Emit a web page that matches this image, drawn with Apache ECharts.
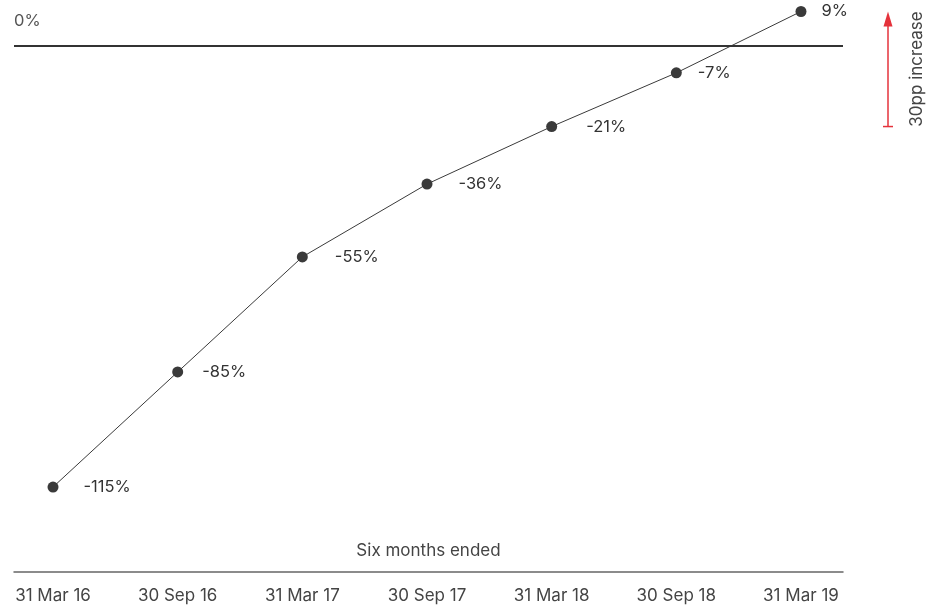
<!DOCTYPE html>
<html>
<head>
<meta charset="utf-8">
<script src="https://cdn.jsdelivr.net/npm/echarts@6/dist/echarts.min.js"></script>
<style>
  html, body { margin: 0; padding: 0; background: #fff; }
  #chart { width: 928px; height: 606px; }
</style>
</head>
<body>
<div id="chart"></div>
<script>
// Period end dates (six months ended)
const categories = ['31 Mar 16', '30 Sep 16', '31 Mar 17', '30 Sep 17', '31 Mar 18', '30 Sep 18', '31 Mar 19'];
// Value per period, in percent
const values = [-115, -85, -55, -36, -21, -7, 9];
// Bracket for the "30pp increase" scale arrow
const arrowRange = [-21, 9];
const arrowText = '30pp increase';
const axisTitle = 'Six months ended';

// Gap between each marker and its value label (px)
const labelGaps = [25, 19, 27, 26, 29, 16, 15];

const FONT = 'Inter, "Noto Sans", sans-serif';
const chart = echarts.init(document.getElementById('chart'), null, { renderer: 'canvas' });

const positions = categories.map((_, i) => i);

chart.setOption({
  animation: false,
  grid: { left: 14, right: 85, top: 0, bottom: 34, containLabel: false },
  xAxis: {
    type: 'value',
    min: -0.313,
    max: 6.337,
    axisLine: { show: true, onZero: false, lineStyle: { color: '#666', width: 1.5 } },
    axisTick: { show: false },
    splitLine: { show: false },
    axisLabel: {
      customValues: positions,
      formatter: v => categories[Math.round(v)] || '',
      color: '#444',
      fontFamily: FONT,
      fontSize: 17,
      margin: 15
    }
  },
  yAxis: {
    type: 'value',
    min: -137.16,
    max: 12,
    show: false
  },
  series: [{
    type: 'line',
    data: values.map((v, i) => ({ value: [i, v], label: { distance: labelGaps[i] } })),
    symbol: 'circle',
    symbolSize: 11,
    itemStyle: { color: '#3a3a3a' },
    lineStyle: { color: '#3a3a3a', width: 1 },
    label: {
      show: true,
      position: 'right',
      formatter: p => p.value[1] + '%',
      color: '#333',
      fontFamily: FONT,
      fontSize: 16.5
    },
    markLine: {
      silent: true,
      symbol: 'none',
      lineStyle: { color: '#333', width: 2, type: 'solid' },
      label: {
        show: true,
        position: 'insideStartTop',
        formatter: '0%',
        color: '#555',
        fontFamily: FONT,
        fontSize: 16.5,
        distance: [0, 16]
      },
      data: [{ yAxis: 0 }]
    },
    z: 3
  }]
});

function drawExtras() {
  const x = 888;
  const yTop = chart.convertToPixel({ yAxisIndex: 0 }, arrowRange[1]);
  const yBot = chart.convertToPixel({ yAxisIndex: 0 }, arrowRange[0]);
  const xLeft = chart.convertToPixel({ xAxisIndex: 0 }, -0.313);
  const xRight = chart.convertToPixel({ xAxisIndex: 0 }, 6.337);
  const red = '#e5323b';
  chart.setOption({
    graphic: [
      { type: 'line', shape: { x1: x, y1: yBot, x2: x, y2: yTop + 12 }, style: { stroke: red, lineWidth: 1.5 } },
      { type: 'line', shape: { x1: x - 5, y1: yBot, x2: x + 5, y2: yBot }, style: { stroke: red, lineWidth: 1.5 } },
      { type: 'polygon', shape: { points: [[x, yTop], [x - 4.5, yTop + 15], [x + 4.5, yTop + 15]] }, style: { fill: red } },
      {
        type: 'text',
        x: 917, y: (yTop + yBot) / 2,
        rotation: Math.PI / 2,
        style: { text: arrowText, fill: '#444', font: '17px ' + FONT, align: 'center', verticalAlign: 'middle' }
      },
      {
        type: 'text',
        x: (xLeft + xRight) / 2, y: 551,
        style: { text: axisTitle, fill: '#444', font: '17px ' + FONT, align: 'center', verticalAlign: 'middle' }
      }
    ]
  });
}
drawExtras();
</script>
</body>
</html>
